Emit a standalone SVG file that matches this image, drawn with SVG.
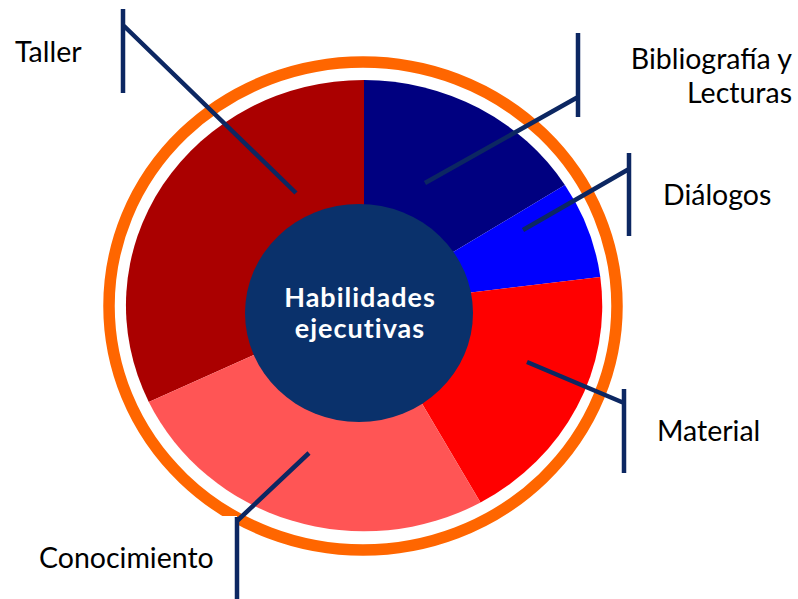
<svg xmlns="http://www.w3.org/2000/svg" width="798" height="599" viewBox="0 0 798 599">
<style>
.lbl{font-family:Lato,"Liberation Sans",sans-serif;font-size:28.5px;fill:#000}
.ctr{font-family:Lato,"Liberation Sans",sans-serif;font-size:27px;font-weight:bold;fill:#fff;letter-spacing:1px}
.con{stroke:#0c2762;stroke-width:4.5;fill:none;stroke-linecap:butt}
</style>
<rect width="798" height="599" fill="#fff"/>
<ellipse id="ring" cx="363" cy="306" rx="254" ry="244" fill="none" stroke="#ff6600" stroke-width="11.5"/>
<g id="taller"><path d="M364 305.5 L148.8 401.9 A238 225.5 0 0 1 364 80 Z" fill="#aa0000"/></g>
<g id="bibliografia"><path d="M364 305.5 L364 80 A238 225.5 0 0 1 564.9 185 Z" fill="#000080"/></g>
<g id="dialogos"><path d="M364 305.5 L564.9 185 A238 225.5 0 0 1 600.3 276.9 Z" fill="#0000ff"/></g>
<g id="material"><path d="M364 305.5 L600.3 276.9 A238 225.5 0 0 1 480.5 502.5 Z" fill="#ff0000"/></g>
<g id="conocimiento"><path d="M364 305.5 L480.5 502.5 A238 225.5 0 0 1 148.8 401.9 Z" fill="#ff5555"/></g>
<g id="centro">
<ellipse cx="359" cy="313" rx="114" ry="109" fill="#0a316b"/>
<text class="ctr" x="360" y="307" text-anchor="middle">Habilidades</text>
<text class="ctr" x="360" y="338" text-anchor="middle">ejecutivas</text>
</g>
<rect x="140" y="516" width="97" height="83" fill="#fff"/>
<g id="connectors" class="con">
<path d="M123 9 V93 M123 25 L296 193"/>
<path d="M578 33 V117 M578 97 L425 183"/>
<path d="M629 153 V236 M629 169 L523 230"/>
<path d="M624 389 V473 M624 403 L527 362"/>
<path d="M237 517 V599 M237 521 L309 453"/>
</g>
<g id="labels">
<text class="lbl" x="15" y="62">Taller</text>
<text class="lbl" x="792" y="69" text-anchor="end">Bibliografía y</text>
<text class="lbl" x="792" y="103" text-anchor="end">Lecturas</text>
<text class="lbl" x="663" y="205">Diálogos</text>
<text class="lbl" x="657" y="441">Material</text>
<text class="lbl" x="39" y="568">Conocimiento</text>
</g>
</svg>
